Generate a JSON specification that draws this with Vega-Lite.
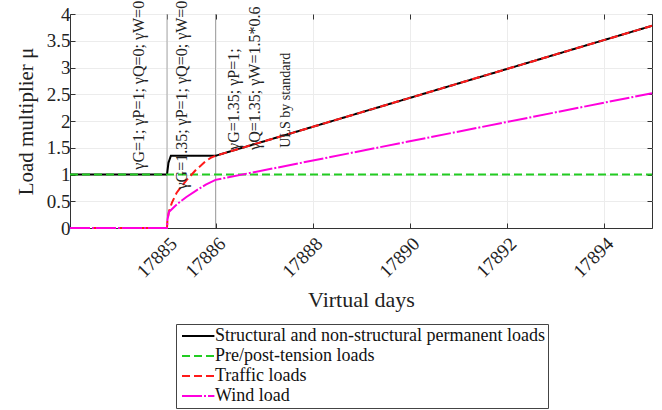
{
  "$schema": "https://vega.github.io/schema/vega-lite/v6.json",
  "width": 582,
  "height": 214,
  "autosize": {"type": "none"},
  "padding": {"left": 70, "top": 14, "right": 10, "bottom": 182},
  "background": "white",
  "config": {
    "view": {"stroke": "#333", "strokeWidth": 1},
    "font": "Liberation Serif",
    "style": {"guide-label": {"font": "Liberation Serif"}, "guide-title": {"font": "Liberation Serif"}},
    "axis": {"labelFont": "Liberation Serif", "titleFont": "Liberation Serif", "titleFontWeight": "normal", "labelColor": "#222", "titleColor": "#222", "domainColor": "#333", "tickColor": "#333", "gridColor": "#ececec"},
    "legend": {"labelFont": "Liberation Serif", "titleFont": "Liberation Serif"}
  },
  "datasets": {
    "curves": [
      {"day": 17883, "mu": 1, "series": "Structural and non-structural permanent loads"},
      {"day": 17885, "mu": 1, "series": "Structural and non-structural permanent loads"},
      {"day": 17885.03, "mu": 1.22, "series": "Structural and non-structural permanent loads"},
      {"day": 17885.08, "mu": 1.35, "series": "Structural and non-structural permanent loads"},
      {"day": 17886, "mu": 1.35, "series": "Structural and non-structural permanent loads"},
      {"day": 17895, "mu": 3.78, "series": "Structural and non-structural permanent loads"},
      {"day": 17883, "mu": 1, "series": "Pre/post-tension loads"},
      {"day": 17895, "mu": 1, "series": "Pre/post-tension loads"},
      {"day": 17883, "mu": 0, "series": "Traffic loads"},
      {"day": 17885, "mu": 0, "series": "Traffic loads"},
      {"day": 17885.01, "mu": 0.15, "series": "Traffic loads"},
      {"day": 17885.04, "mu": 0.31, "series": "Traffic loads"},
      {"day": 17885.1, "mu": 0.47, "series": "Traffic loads"},
      {"day": 17885.2, "mu": 0.66, "series": "Traffic loads"},
      {"day": 17885.3, "mu": 0.78, "series": "Traffic loads"},
      {"day": 17885.4, "mu": 0.89, "series": "Traffic loads"},
      {"day": 17885.5, "mu": 0.99, "series": "Traffic loads"},
      {"day": 17885.6, "mu": 1.09, "series": "Traffic loads"},
      {"day": 17885.7, "mu": 1.17, "series": "Traffic loads"},
      {"day": 17885.8, "mu": 1.25, "series": "Traffic loads"},
      {"day": 17885.9, "mu": 1.31, "series": "Traffic loads"},
      {"day": 17886, "mu": 1.35, "series": "Traffic loads"},
      {"day": 17895, "mu": 3.78, "series": "Traffic loads"},
      {"day": 17883, "mu": 0, "series": "Wind load"},
      {"day": 17885, "mu": 0, "series": "Wind load"},
      {"day": 17885.01, "mu": 0.16, "series": "Wind load"},
      {"day": 17885.04, "mu": 0.3, "series": "Wind load"},
      {"day": 17885.2, "mu": 0.44, "series": "Wind load"},
      {"day": 17885.4, "mu": 0.58, "series": "Wind load"},
      {"day": 17885.6, "mu": 0.7, "series": "Wind load"},
      {"day": 17885.8, "mu": 0.81, "series": "Wind load"},
      {"day": 17886, "mu": 0.9, "series": "Wind load"},
      {"day": 17895, "mu": 2.52, "series": "Wind load"}
    ],
    "phases": [{"day": 17885}, {"day": 17886}],
    "notes": [
      {"day": 17884.43, "mu": 1.09, "label": "γG=1; γP=1; γQ=0; γW=0"},
      {"day": 17885.31, "mu": 0.72, "label": "γG=1.35; γP=1; γQ=0; γW=0"},
      {"day": 17886.38, "mu": 1.46, "label": "γG=1.35; γP=1;"},
      {"day": 17886.81, "mu": 1.46, "label": "γQ=1.35; γW=1.5*0.6"}
    ],
    "notes2": [
      {"day": 17887.45, "mu": 1.5, "label": "ULS by standard"}
    ]
  },
  "resolve": {"axis": {"x": "independent", "y": "independent"}},
  "layer": [
    {
      "data": {"name": "phases"},
      "mark": {"type": "rule", "color": "#a8a8a8", "strokeWidth": 1},
      "encoding": {
        "x": {"field": "day", "type": "quantitative", "scale": {"domain": [17883, 17895], "nice": false, "zero": false},
          "axis": {"orient": "top", "values": [17885, 17886, 17888, 17890, 17892, 17894], "labels": false, "title": null, "grid": false, "domain": false, "tickSize": -5}}
      }
    },
    {
      "data": {"name": "curves"},
      "transform": [{"filter": "datum.series === 'Structural and non-structural permanent loads'"}],
      "mark": {"type": "line", "strokeWidth": 2, "interpolate": "linear"},
      "encoding": {
        "x": {"field": "day", "type": "quantitative", "scale": {"domain": [17883, 17895], "nice": false, "zero": false},
          "axis": {"orient": "bottom", "values": [17885, 17886, 17888, 17890, 17892, 17894], "format": "d", "labelAngle": -45, "labelFontSize": 19, "labelPadding": 11, "tickSize": -5, "grid": true, "title": "Virtual days", "titleFontSize": 22, "titlePadding": 8}},
        "y": {"field": "mu", "type": "quantitative", "scale": {"domain": [0, 4], "nice": false},
          "axis": {"orient": "left", "values": [0, 0.5, 1, 1.5, 2, 2.5, 3, 3.5, 4], "labelExpr": "'' + datum.value", "labelFontSize": 19, "labelPadding": 5, "tickSize": -5, "grid": true, "title": "Load multiplier μ", "titleFontSize": 21, "titlePadding": 10}},
        "color": {"field": "series", "type": "nominal",
          "scale": {"domain": ["Structural and non-structural permanent loads", "Pre/post-tension loads", "Traffic loads", "Wind load"], "range": ["#000000", "#22cc22", "#ff1a1a", "#ff00dd"]},
          "legend": {"orient": "none", "legendX": 106, "legendY": 310, "title": null, "symbolType": "M-1,0L4.4,0", "symbolSize": 144, "symbolStrokeWidth": 2, "labelFont": "Liberation Serif", "labelFontSize": 18, "labelLimit": 0, "labelOffset": 18, "rowPadding": 2, "padding": 3, "strokeColor": "#444", "fillColor": "white", "labelColor": "#111"}},
        "strokeDash": {"field": "series", "type": "nominal",
          "scale": {"domain": ["Structural and non-structural permanent loads", "Pre/post-tension loads", "Traffic loads", "Wind load"], "range": [[1, 0], [8, 4], [8, 4], [20, 2, 2, 2]]},
          "legend": {"orient": "none", "legendX": 106, "legendY": 310, "title": null, "symbolType": "M-1,0L4.4,0", "symbolSize": 144, "symbolStrokeWidth": 2, "labelFont": "Liberation Serif", "labelFontSize": 18, "labelLimit": 0, "labelOffset": 18, "rowPadding": 2, "padding": 3, "strokeColor": "#444", "fillColor": "white", "labelColor": "#111"}}
      }
    },
    {
      "data": {"name": "curves"},
      "transform": [{"filter": "datum.series === 'Pre/post-tension loads'"}],
      "mark": {"type": "line", "strokeWidth": 2},
      "encoding": {
        "x": {"field": "day", "type": "quantitative", "axis": null},
        "y": {"field": "mu", "type": "quantitative",
          "axis": {"orient": "right", "values": [0, 0.5, 1, 1.5, 2, 2.5, 3, 3.5, 4], "labels": false, "title": null, "grid": false, "domain": false, "tickSize": -5}},
        "color": {"field": "series", "type": "nominal"},
        "strokeDash": {"field": "series", "type": "nominal"}
      }
    },
    {
      "data": {"name": "curves"},
      "transform": [{"filter": "datum.series === 'Traffic loads'"}],
      "mark": {"type": "line", "strokeWidth": 2},
      "encoding": {
        "x": {"field": "day", "type": "quantitative", "axis": null},
        "y": {"field": "mu", "type": "quantitative", "axis": null},
        "color": {"field": "series", "type": "nominal"},
        "strokeDash": {"field": "series", "type": "nominal"}
      }
    },
    {
      "data": {"name": "curves"},
      "transform": [{"filter": "datum.series === 'Wind load'"}],
      "mark": {"type": "line", "strokeWidth": 2},
      "encoding": {
        "x": {"field": "day", "type": "quantitative", "axis": null},
        "y": {"field": "mu", "type": "quantitative", "axis": null},
        "color": {"field": "series", "type": "nominal"},
        "strokeDash": {"field": "series", "type": "nominal"}
      }
    },
    {
      "data": {"name": "notes"},
      "mark": {"type": "text", "angle": 270, "align": "left", "baseline": "middle", "font": "Liberation Serif", "fontSize": 16, "color": "#222"},
      "encoding": {
        "x": {"field": "day", "type": "quantitative", "axis": null},
        "y": {"field": "mu", "type": "quantitative", "axis": null},
        "text": {"field": "label"}
      }
    },
    {
      "data": {"name": "notes2"},
      "mark": {"type": "text", "angle": 270, "align": "left", "baseline": "middle", "font": "Liberation Serif", "fontSize": 14, "color": "#222"},
      "encoding": {
        "x": {"field": "day", "type": "quantitative", "axis": null},
        "y": {"field": "mu", "type": "quantitative", "axis": null},
        "text": {"field": "label"}
      }
    }
  ]
}
